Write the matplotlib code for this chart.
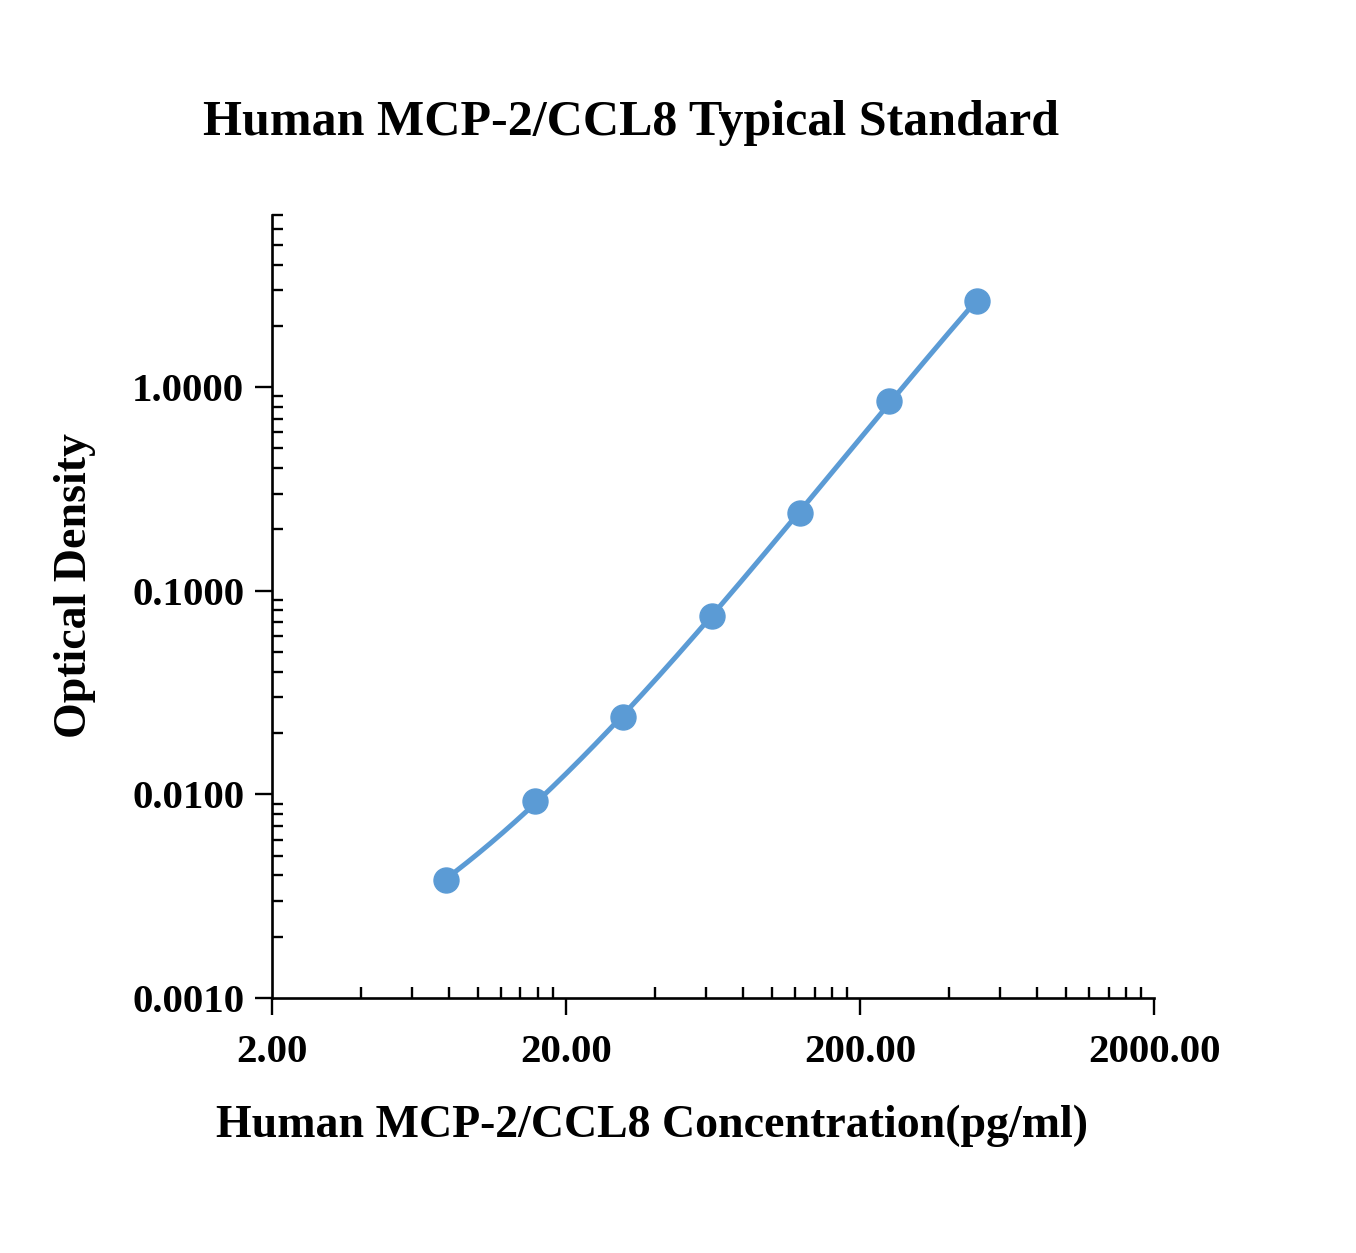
import numpy as np
import matplotlib
matplotlib.use("Agg")
import matplotlib.pyplot as plt
from matplotlib.ticker import FixedLocator, NullFormatter

# standard curve data
CONC = [7.81, 15.63, 31.25, 62.5, 125.0, 250.0, 500.0]
OD = [0.0038, 0.0093, 0.0240, 0.0750, 0.2420, 0.8500, 2.6500]

X_MAJOR = [2, 20, 200, 2000]
X_LABELS = ["2.00", "20.00", "200.00", "2000.00"]
Y_MAJOR = [0.001, 0.01, 0.1, 1.0]
Y_LABELS = ["0.0010", "0.0100", "0.1000", "1.0000"]

TITLE = "Human MCP-2/CCL8 Typical Standard"
XLABEL = "Human MCP-2/CCL8 Concentration(pg/ml)"
YLABEL = "Optical Density"

BLUE = "#5B9BD5"

plt.rcParams["font.family"] = ["Liberation Serif", "DejaVu Serif"]
plt.rcParams["font.weight"] = "bold"

fig = plt.figure(figsize=(13.56, 12.53), dpi=100)
ax = fig.add_axes([0.2006, 0.2035, 0.6505, 0.6249])

# smooth fit in log-log space
lx, ly = np.log10(CONC), np.log10(OD)
coef = np.polyfit(lx, ly, 3)
xs = np.linspace(lx.min(), lx.max(), 300)
ax.plot(10 ** xs, 10 ** np.polyval(coef, xs), color=BLUE, lw=3.6, zorder=2)
ax.plot(CONC, OD, "o", color=BLUE, ms=18, zorder=3, clip_on=False)

ax.set_xscale("log")
ax.set_yscale("log")
ax.set_xlim(2, 2000)
ax.set_ylim(0.001, 7)

ax.xaxis.set_major_locator(FixedLocator(X_MAJOR))
ax.set_xticklabels(X_LABELS)
x_minor = [2 * k * 10 ** n for n in range(3) for k in range(2, 10)]
ax.xaxis.set_minor_locator(FixedLocator(x_minor))
ax.xaxis.set_minor_formatter(NullFormatter())

ax.yaxis.set_major_locator(FixedLocator(Y_MAJOR))
ax.set_yticklabels(Y_LABELS)
y_minor = [k * 10.0 ** n for n in range(-3, 1) for k in range(2, 10)]
ax.yaxis.set_minor_locator(FixedLocator([v for v in y_minor if v <= 7]))
ax.yaxis.set_minor_formatter(NullFormatter())

for side in ("top", "right"):
    ax.spines[side].set_visible(False)
for side in ("left", "bottom"):
    ax.spines[side].set_linewidth(1.9)

ax.tick_params(which="major", direction="out", length=12, width=1.7,
               labelsize=29.5, pad=8)
ax.tick_params(which="minor", direction="in", length=8, width=1.7)
ax.tick_params(axis="x", which="major", pad=14)
for lab in ax.get_xticklabels() + ax.get_yticklabels():
    lab.set_fontweight("bold")

fig.text(0.4653, 0.902, TITLE, ha="center", va="center",
         fontsize=36, fontweight="bold")
fig.text(0.481, 0.1015, XLABEL, ha="center", va="center",
         fontsize=33, fontweight="bold")
fig.text(0.0553, 0.533, YLABEL, ha="center", va="center", rotation=90,
         fontsize=33, fontweight="bold")

fig.savefig("out.png", dpi=100)
